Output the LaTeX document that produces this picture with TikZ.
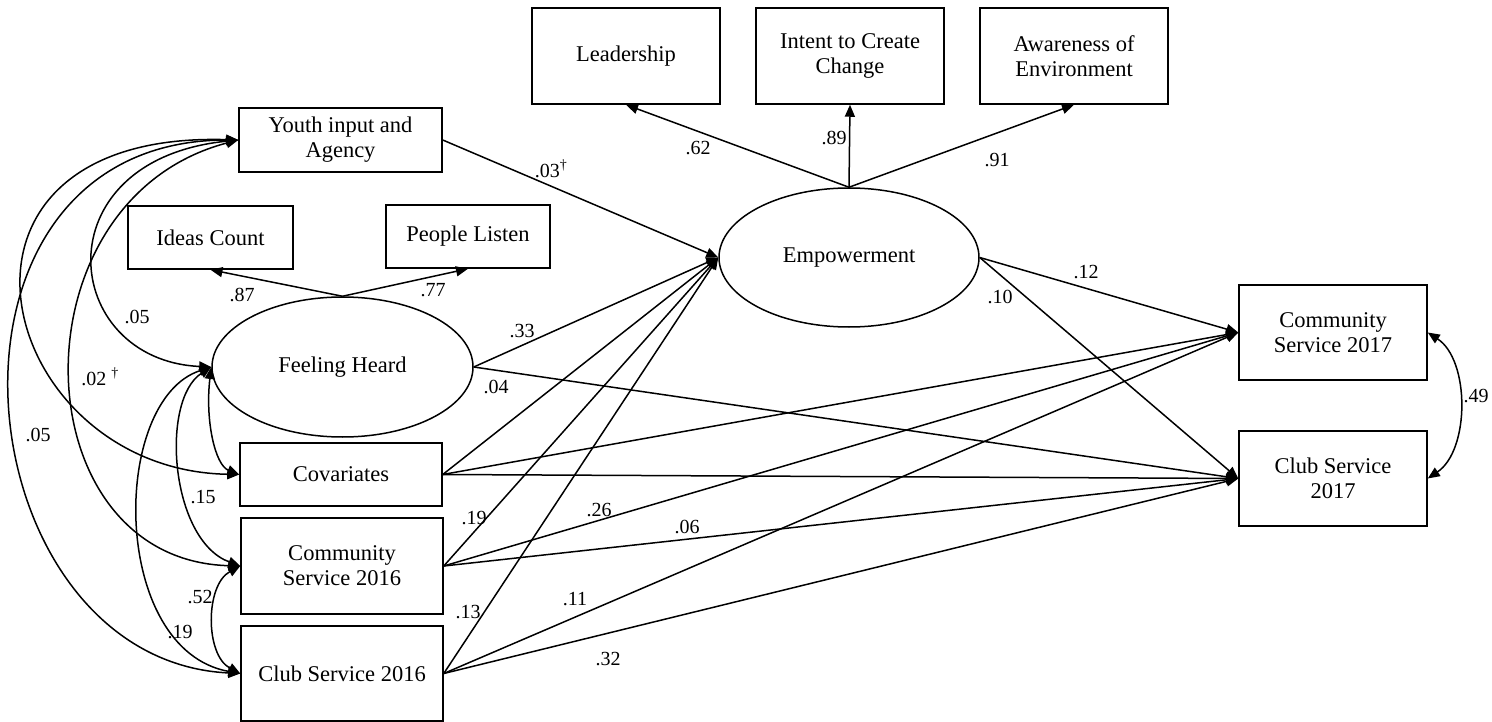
\documentclass[tikz,border=0pt]{standalone}
\usepackage{fontspec}
\setmainfont{Liberation Serif}
\usetikzlibrary{arrows.meta,shapes.geometric}
\begin{document}
\begin{tikzpicture}[x=1pt,y=-1pt,
  box/.style={draw,line width=1.5pt,rectangle,inner sep=0pt,align=center,
    font=\fontsize{22.5}{25}\selectfont},
  latent/.style={draw,line width=1.5pt,ellipse,inner sep=0pt,
    font=\fontsize{22.5}{25}\selectfont},
  tri/.tip={Triangle[length=12pt,width=10pt]},
  path/.style={line width=1.5pt,-tri},
  cov/.style={line width=1.5pt,tri-tri},
  coef/.style={font=\fontsize{20}{22}\selectfont,inner sep=0pt}]
\useasboundingbox (0,0) rectangle (1492,722);

% indicators of empowerment
\node[box,minimum width=188pt,minimum height=96pt] (lead)   at (626,56)  {Leadership};
\node[box,minimum width=188pt,minimum height=96pt] (intent) at (850,56)  {Intent to Create\\Change};
\node[box,minimum width=188pt,minimum height=96pt] (aware)  at (1074,56) {Awareness of\\Environment};

% predictors
\node[box,minimum width=203pt,minimum height=64pt] (youth)  at (340.5,140) {Youth input and\\Agency};
\node[box,minimum width=165pt,minimum height=63pt] (ideas)  at (210.5,237.5) {Ideas Count};
\node[box,minimum width=164pt,minimum height=63pt] (listen) at (468,236.5) {People Listen};
\node[latent,minimum width=261pt,minimum height=140pt] (fh)  at (342.5,367) {Feeling Heard};
\node[latent,minimum width=260pt,minimum height=139pt] (emp) at (849,257.5) {Empowerment};
\node[box,minimum width=202pt,minimum height=63pt] (cov)  at (341,474.5) {Covariates};
\node[box,minimum width=202pt,minimum height=96pt] (cs16) at (342,566) {Community\\Service 2016};
\node[box,minimum width=202pt,minimum height=95pt] (cl16) at (342,673.5) {Club Service 2016};

% outcomes
\node[box,minimum width=188pt,minimum height=95pt] (cs17) at (1333,332.5) {Community\\Service 2017};
\node[box,minimum width=188pt,minimum height=95pt] (cl17) at (1333,478.5) {Club Service\\2017};

% measurement paths
\draw[path] (emp.north) -- (lead.south);
\draw[path] (emp.north) -- (intent.south);
\draw[path] (emp.north) -- (aware.south);
\draw[path] (fh.north) -- (ideas.south);
\draw[path] (fh.north) -- (listen.south);

% structural paths
\draw[path] (youth.east) -- (emp.west);
\draw[path] (fh.east) -- (emp.west);
\draw[path] (fh.east) -- (cl17.west);
\draw[path] (cov.east) -- (emp.west);
\draw[path] (cov.east) -- (cs17.west);
\draw[path] (cov.east) -- (cl17.west);
\draw[path] (cs16.east) -- (emp.west);
\draw[path] (cs16.east) -- (cs17.west);
\draw[path] (cs16.east) -- (cl17.west);
\draw[path] (cl16.east) -- (emp.west);
\draw[path] (cl16.east) -- (cs17.west);
\draw[path] (cl16.east) -- (cl17.west);
\draw[path] (emp.east) -- (cs17.west);
\draw[path] (emp.east) -- (cl17.west);

% correlations among exogenous variables
\draw[cov] (youth.west) .. controls (40,160) and (60,360) .. (fh.west);
\draw[cov] (youth.west) .. controls (-90,130) and (-5,470) .. (cov.west);
\draw[cov] (youth.west) .. controls (10,200) and (20,560) .. (cs16.west);
\draw[cov] (youth.west) .. controls (-90,140) and (-40,660) .. (cl16.west);
\draw[cov] (fh.west) .. controls (205,420) and (215,465) .. (cov.west);
\draw[cov] (fh.west) .. controls (160,400) and (170,540) .. (cs16.west);
\draw[cov] (fh.west) .. controls (110,400) and (110,650) .. (cl16.west);
\draw[cov] (cs16.west) .. controls (205,585) and (205,655) .. (cl16.west);

% residual correlation of outcomes
\draw[cov] (cs17.east) .. controls (1470,360) and (1470,450) .. (cl17.east);

% coefficients
\node[coef] (c1)  at (698,148) {.62};
\node[coef] (c2)  at (834,138) {.89};
\node[coef] (c3)  at (997,160) {.91};
\node[coef] (c4)  at (551,169) {.03\textsuperscript{†}};
\node[coef] (c5)  at (242,295) {.87};
\node[coef] (c6)  at (433,290) {.77};
\node[coef] (c7)  at (522,331) {.33};
\node[coef] (c8)  at (496,387) {.04};
\node[coef] (c9)  at (474,518) {.19};
\node[coef] (c10) at (468,612) {.13};
\node[coef] (c11) at (599,510) {.26};
\node[coef] (c12) at (687,527) {.06};
\node[coef] (c13) at (575,599) {.11};
\node[coef] (c14) at (608,659) {.32};
\node[coef] (c15) at (1086,272) {.12};
\node[coef] (c16) at (1000,297) {.10};
\node[coef] (c17) at (1476,396) {.49};
\node[coef] (c18) at (137,317) {.05};
\node[coef] (c19) at (100,377) {.02~\textsuperscript{†}};
\node[coef] (c20) at (38,435) {.05};
\node[coef] (c21) at (203,497) {.15};
\node[coef] (c22) at (200,597) {.52};
\node[coef] (c23) at (180,632) {.19};
\end{tikzpicture}
\end{document}
